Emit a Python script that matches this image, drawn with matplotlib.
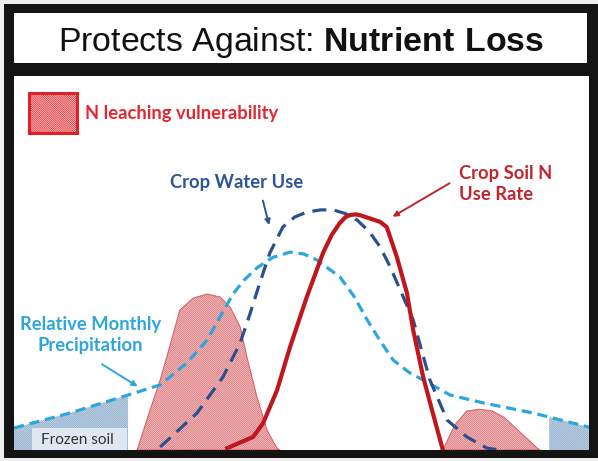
import matplotlib
matplotlib.use("Agg")
import matplotlib.pyplot as plt
from matplotlib.patches import Rectangle, FancyArrowPatch
import numpy as np

plt.rcParams['mathtext.fontset'] = 'custom'
plt.rcParams['mathtext.rm'] = 'Liberation Sans'
plt.rcParams['mathtext.bf'] = 'Liberation Sans:bold'
plt.rcParams['hatch.linewidth'] = 0.5

# ---- data (x = months of the year, y = relative level 0-100) ----
precip_x = [0.0, 1.17, 2.38, 3.05, 3.61, 4.03, 4.30, 4.57, 4.80, 5.07, 5.40, 5.76, 6.05, 6.32, 6.80, 7.10, 7.37, 7.65, 7.91, 8.25, 8.54, 9.10, 9.79, 10.83, 12.0]
precip_y = [5.9, 9.9, 14.7, 17.4, 23.3, 29.4, 35.6, 41.7, 45.4, 48.7, 51.5, 52.9, 52.4, 50.8, 46.3, 41.0, 34.8, 29.0, 24.1, 20.7, 18.7, 14.7, 12.6, 9.9, 6.1]

water_x = [3.05, 3.82, 4.36, 4.72, 4.93, 5.13, 5.34, 5.61, 5.86, 6.11, 6.40, 6.66, 6.92, 7.16, 7.42, 7.64, 7.85, 8.06, 8.33, 8.68, 9.04, 9.45, 9.87, 10.14]
water_y = [0.8, 9.9, 19.5, 28.6, 36.6, 44.7, 52.7, 59.6, 62.3, 63.6, 64.2, 64.2, 63.2, 61.5, 58.3, 54.3, 49.0, 42.8, 34.8, 18.7, 8.0, 3.5, 0.5, 0.0]

nuse_x = [4.45, 4.99, 5.20, 5.49, 5.76, 6.11, 6.45, 6.63, 6.80, 6.92, 7.01, 7.12, 7.22, 7.64, 7.78, 7.99, 8.20, 8.33, 8.54, 8.74, 8.95]
nuse_y = [0.5, 3.5, 7.2, 16.0, 27.5, 40.9, 52.7, 57.5, 60.7, 62.3, 62.8, 63.0, 62.8, 61.0, 59.6, 51.6, 42.0, 32.1, 19.5, 9.9, 0.0]

leach1_x = [2.57, 2.84, 3.05, 3.26, 3.46, 3.74, 4.03, 4.30, 4.51, 4.72, 4.86, 5.07, 5.28, 5.49, 5.55]
leach1_y = [0.0, 10.7, 18.7, 28.1, 37.4, 40.6, 41.7, 40.9, 38.2, 32.9, 24.9, 14.2, 5.3, 0.5, 0.0]

leach2_x = [8.95, 9.20, 9.45, 9.72, 9.99, 10.24, 10.56, 10.92, 10.98]
leach2_y = [0.0, 6.7, 10.4, 10.9, 10.4, 8.6, 4.8, 0.5, 0.0]

frozen_left = (0.0, 2.38)
frozen_right = (11.17, 12.0)

# ---- figure ----
W, H = 598, 461
fig = plt.figure(figsize=(W / 100, H / 100), dpi=100, facecolor='#eeeeee')

def fx(px):
    return px / W

def fy(py):
    return 1 - py / H

# black frame
fig.patches.append(Rectangle((fx(4), fy(458)), fx(594), 454 / H, transform=fig.transFigure,
                             facecolor='#141414', edgecolor='none', zorder=-2))
# title box
fig.patches.append(Rectangle((fx(14), fy(63)), fx(573), 50 / H, transform=fig.transFigure,
                             facecolor='white', edgecolor='none', zorder=-1))
fig.text(fx(301), fy(51), r"Protects Against: $\bf{Nutrient\ Loss}$", ha='center', va='baseline',
         fontsize=24.4, family='Liberation Sans', color='#111111', zorder=2)

# chart area
ax = fig.add_axes([fx(14), fy(450), fx(575), 374 / H])
ax.set_zorder(3)
ax.set_facecolor('white')
ax.set_xlim(0, 12)
ax.set_ylim(0, 100)
for s in ax.spines.values():
    s.set_visible(False)
ax.set_xticks([])
ax.set_yticks([])

px = np.array(precip_x)
py = np.array(precip_y)

HATCH = '\\' * 16

# frozen soil hatched areas (under precipitation curve)
for a, b in (frozen_left, frozen_right):
    xs = np.linspace(a, b, 30)
    ys = np.interp(xs, px, py)
    ax.fill_between(xs, 0, ys, facecolor='#cbdbea', edgecolor='#86a6c4', hatch=HATCH,
                    linewidth=0, zorder=1)

# frozen soil label box
ax.add_patch(Rectangle((0.38, 0), 1.98, 5.9, facecolor='#dde8f2', edgecolor='none', zorder=2))
ax.text(1.32, 2.6, "Frozen soil", ha='center', va='center', fontsize=11, family='Lato',
        color='#333333', zorder=3)

# leaching vulnerability areas
for lx, ly in ((leach1_x, leach1_y), (leach2_x, leach2_y)):
    ax.fill(lx, ly, facecolor='#f6d2d2', edgecolor='#d8646c', hatch=HATCH, linewidth=0.8, zorder=2)

# curves
ax.plot(precip_x, precip_y, color='#2ba7de', lw=2.3, dashes=(3.2, 1.8), zorder=4,
        dash_capstyle='butt', dash_joinstyle='round')
ax.plot(water_x, water_y, color='#2d4f8e', lw=2.3, dashes=(4.4, 2.6), zorder=4,
        dash_capstyle='butt', dash_joinstyle='round')
ax.plot(nuse_x, nuse_y, color='#c0161e', lw=3.0, zorder=5, solid_joinstyle='round')

# legend
ax.add_patch(Rectangle((0.313, 84.8), 1.0, 10.7, facecolor='#f6d2d2',
                       edgecolor='#e02027', hatch=HATCH, linewidth=2.2, zorder=5))
ax.text(1.48, 90.1, "N leaching vulnerability", ha='left', va='center', fontsize=13.2,
        fontweight='bold', family='Lato', color='#e3262f', zorder=6)

# annotations
ax.text(4.65, 71.4, "Crop Water Use", ha='center', va='center', fontsize=13.2,
        fontweight='bold', family='Lato', color='#2f5496', zorder=6)
ax.add_patch(FancyArrowPatch((5.18, 67.4), (5.34, 59.4), arrowstyle='-|>', mutation_scale=8,
                             color='#2f5496', lw=1.4, zorder=6))

ax.text(9.29, 71.1, "Crop Soil N\nUse Rate", ha='left', va='center', fontsize=13.2,
        fontweight='bold', family='Lato', color='#c0262d', linespacing=1.3, zorder=6)
ax.add_patch(FancyArrowPatch((9.14, 71.7), (7.85, 62.0), arrowstyle='-|>', mutation_scale=8,
                             color='#c0262d', lw=1.4, zorder=6))

ax.text(1.59, 30.7, "Relative Monthly\nPrecipitation", ha='center', va='center', fontsize=13.2,
        fontweight='bold', family='Lato', color='#2ea6dd', linespacing=1.3, zorder=6)
ax.add_patch(FancyArrowPatch((1.79, 23.3), (2.63, 16.6), arrowstyle='-|>', mutation_scale=8,
                             color='#2ea6dd', lw=1.4, zorder=6))

fig.savefig('out.png', dpi=100, facecolor=fig.get_facecolor())
